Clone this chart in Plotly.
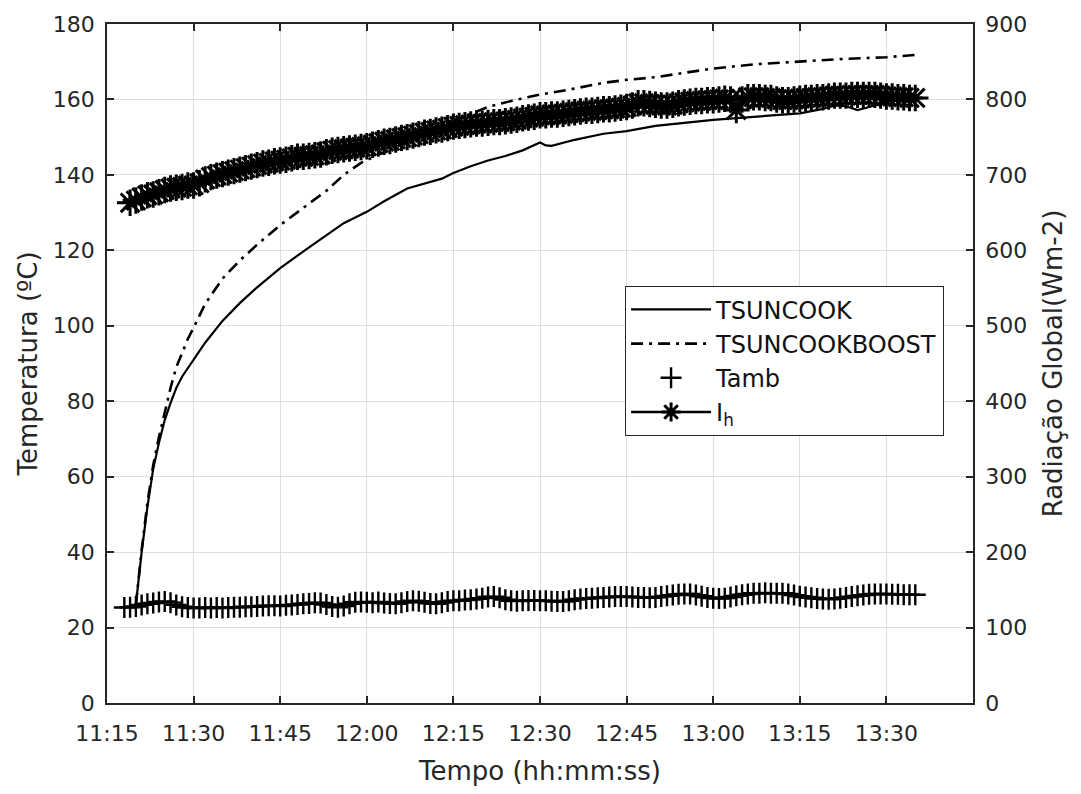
import pandas as pd
import plotly.graph_objects as go

DAY = "2021-01-01 "

# TSUNCOOK (solid line), temperature in degC
t_sun = ["11:20", "11:21", "11:22", "11:23", "11:24", "11:25", "11:26", "11:27", "11:28", "11:29",
         "11:30", "11:32", "11:35", "11:38", "11:41", "11:45", "11:50", "11:53", "11:56", "12:00",
         "12:03", "12:07", "12:10", "12:13", "12:15", "12:18", "12:21", "12:24", "12:27", "12:30",
         "12:31", "12:32", "12:36", "12:41", "12:45", "12:50", "12:55", "13:00", "13:07", "13:15",
         "13:19", "13:21", "13:23", "13:25", "13:27", "13:30", "13:33", "13:35"]
T_sun = [26, 40, 52, 62, 69, 75, 79.5, 83.5, 86.5, 88.8,
         90.8, 95.5, 101.3, 106, 110.2, 115.3, 120.8, 124, 127.2, 130.2,
         133, 136.4, 137.8, 139, 140.5, 142.3, 143.8, 145, 146.5, 148.6,
         147.8, 147.7, 149.3, 150.9, 151.6, 153, 153.8, 154.6, 155.4, 156.3,
         157.5, 158.4, 158.2, 157.2, 158, 159.4, 159.8, 160.6]

# TSUNCOOKBOOST (dash-dot line)
t_boost = ["11:20", "11:21", "11:22", "11:23", "11:24", "11:25", "11:26", "11:27", "11:28", "11:29",
           "11:30", "11:32", "11:35", "11:38", "11:41", "11:45", "11:50", "11:53", "11:56", "11:59",
           "12:02", "12:06", "12:10", "12:14", "12:17", "12:21", "12:25", "12:30", "12:35", "12:41",
           "12:45", "12:50", "12:55", "13:00", "13:07", "13:15", "13:22", "13:30", "13:35"]
T_boost = [26, 40.5, 53, 63, 70.5, 77, 83.5, 89, 93, 96.5,
           99.5, 105.8, 112.5, 117.3, 121.5, 126.7, 132.4, 135.8, 140, 143.2,
           145.3, 148.2, 151, 153.6, 155.6, 158, 159.6, 161.3, 162.6, 164.4,
           165.2, 165.9, 167, 168.2, 169.3, 170.1, 170.7, 171.2, 171.8]

# Tamb, one reading per minute starting 11:18
tamb_start = "11:18"
T_amb = [25.3, 25.4, 25.6, 26.0, 26.3, 26.5, 26.8, 26.9, 26.6, 26.0,
         25.5, 25.3, 25.2, 25.2, 25.3, 25.2, 25.3, 25.2, 25.3, 25.4,
         25.4, 25.5, 25.5, 25.6, 25.7, 25.8, 25.8, 25.7, 25.9, 26.0,
         26.1, 26.3, 26.4, 26.6, 26.5, 26.1, 25.6, 25.4, 25.7, 26.3,
         26.7, 26.8, 26.7, 26.6, 26.8, 26.5, 26.4, 26.3, 26.6, 26.9,
         27.1, 27.0, 26.7, 26.4, 26.3, 26.6, 26.9, 27.1, 27.1, 27.3,
         27.4, 27.6, 27.8, 28.1, 28.2, 27.9, 27.4, 27.1, 27.0, 27.1,
         27.2, 27.2, 27.1, 27.1, 27.0, 26.9, 26.9, 27.1, 27.4, 27.6,
         27.7, 27.8, 27.9, 28.0, 28.1, 28.2, 28.2, 28.2, 28.1, 28.0,
         28.0, 27.9, 28.0, 28.2, 28.4, 28.6, 28.8, 28.9, 28.9, 28.6,
         28.3, 28.0, 27.8, 27.7, 27.8, 28.1, 28.4, 28.7, 28.9, 29.1,
         29.1, 29.2, 29.1, 29.1, 29.1, 28.9, 28.6, 28.3, 28.1, 27.9,
         27.7, 27.6, 27.5, 27.6, 27.8, 28.0, 28.2, 28.4, 28.6, 28.8,
         28.9, 28.9, 28.9, 28.8, 28.8, 28.7, 28.7, 28.7]

# I_h global radiation (W/m2), one reading per minute starting 11:19
ih_start = "11:19"
I_h = [663, 666, 670, 673, 674, 677, 680, 682, 683, 684,
       686, 686, 689, 694, 697, 699, 701, 703, 705, 707,
       709, 711, 713, 715, 716, 718, 719, 720, 722, 724,
       724, 725, 726, 727, 730, 732, 733, 734, 735, 736,
       737, 738, 740, 742, 744, 745, 747, 749, 750, 752,
       754, 756, 757, 759, 760, 762, 764, 765, 766, 767,
       768, 768, 769, 770, 770, 771, 772, 773, 775, 776,
       777, 779, 779, 780, 780, 781, 782, 783, 784, 785,
       785, 786, 787, 787, 788, 789, 790, 792, 795, 795,
       794, 793, 792, 792, 793, 795, 796, 797, 798, 798,
       799, 799, 800, 801, 800, 786, 800, 803, 803, 803,
       802, 802, 800, 799, 799, 800, 801, 802, 802, 803,
       803, 804, 805, 805, 805, 806, 806, 806, 806, 806,
       805, 804, 804, 803, 803, 802, 802]

x_ticks = ["11:15", "11:30", "11:45", "12:00", "12:15", "12:30", "12:45", "13:00", "13:15", "13:30"]
x_range = ["11:15", "13:45"]


def ts(hm_list):
    return pd.to_datetime([DAY + s for s in hm_list])


x_sun = ts(t_sun)
x_boost = ts(t_boost)
x_amb = pd.date_range(DAY + tamb_start, periods=len(T_amb), freq="1min")
x_ih = pd.date_range(DAY + ih_start, periods=len(I_h), freq="1min")

FONT = "DejaVu Sans, Liberation Sans, Arial, sans-serif"
AX = "#262626"
GRID = "#dedede"

fig = go.Figure()
fig.add_trace(go.Scatter(x=x_sun, y=T_sun, mode="lines", name="TSUNCOOK",
                         line=dict(color="black", width=2.2), legendgroup="a"))
fig.add_trace(go.Scatter(x=x_boost, y=T_boost, mode="lines", name="TSUNCOOKBOOST",
                         line=dict(color="black", width=2.6, dash="12px,6px,3px,6px"), legendgroup="b"))
fig.add_trace(go.Scatter(x=x_amb, y=T_amb, mode="markers", name="Tamb",
                         marker=dict(symbol="cross-thin-open", size=15, color="black",
                                     line=dict(color="black", width=2.4)), legendgroup="c"))
fig.add_trace(go.Scatter(x=x_ih, y=I_h, mode="lines+markers", name="I<sub>h</sub>", yaxis="y2",
                         line=dict(color="black", width=2.4),
                         marker=dict(symbol="asterisk-open", size=22, color="black",
                                     line=dict(color="black", width=3)), legendgroup="d"))

fig.update_layout(
    width=1081, height=794,
    margin=dict(l=107, r=108, t=19, b=91),
    paper_bgcolor="white", plot_bgcolor="white",
    font=dict(family=FONT, size=22, color=AX),
    showlegend=True,
    legend=dict(x=0.598, y=0.614, xanchor="left", yanchor="top",
                bordercolor=AX, borderwidth=1.2, bgcolor="white",
                font=dict(size=24, color="#111111"), tracegroupgap=0, itemwidth=80),
    xaxis=dict(type="date", range=ts(x_range), tickvals=ts(x_ticks), ticktext=x_ticks,
               showgrid=True, gridcolor=GRID, gridwidth=1,
               showline=True, linecolor=AX, linewidth=1.6, mirror="ticks",
               ticks="inside", ticklen=7, tickcolor=AX, tickwidth=1.6,
               tickfont=dict(size=22, color=AX), zeroline=False, ticklabelstandoff=10,
               title=dict(text="Tempo (hh:mm:ss)", font=dict(size=26, color=AX), standoff=17)),
    yaxis=dict(range=[0, 180], dtick=20, showgrid=True, gridcolor=GRID, gridwidth=1,
               showline=True, linecolor=AX, linewidth=1.6, mirror=False,
               ticks="inside", ticklen=7, tickcolor=AX, tickwidth=1.6,
               tickfont=dict(size=22, color=AX), zeroline=False, ticklabelstandoff=6,
               title=dict(text="Temperatura (ºC)", font=dict(size=26, color=AX), standoff=8)),
    yaxis2=dict(range=[0, 900], dtick=100, overlaying="y", side="right", showgrid=False,
                showline=True, linecolor=AX, linewidth=1.6,
                ticks="inside", ticklen=7, tickcolor=AX, tickwidth=1.6,
                tickfont=dict(size=22, color=AX), zeroline=False, ticklabelstandoff=6,
                title=dict(text="Radiação Global(Wm-2)", font=dict(size=26, color=AX), standoff=18)),
)

fig.write_html("out.html")
